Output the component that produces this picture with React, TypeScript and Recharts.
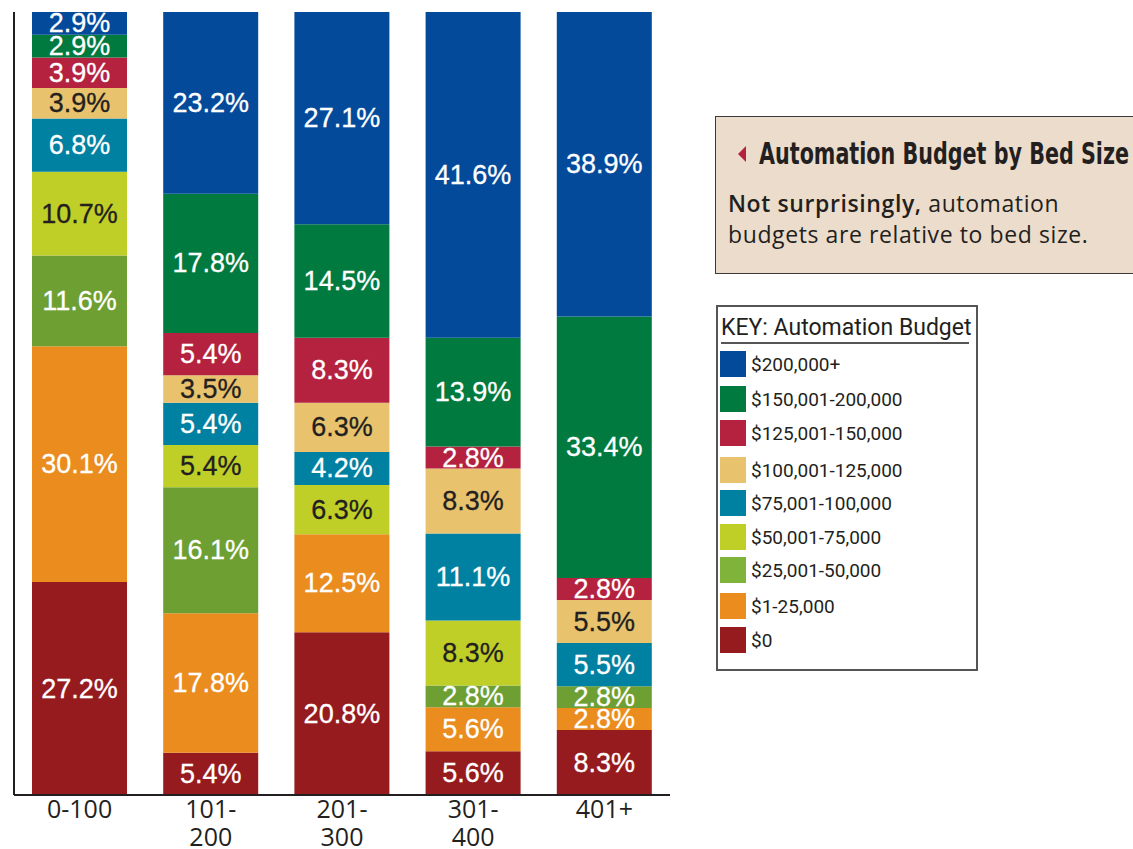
import { BarChart, Bar, XAxis, YAxis, LabelList } from 'recharts'

const categories = ['0-100', '101-200', '201-300', '301-400', '401+']
const tickLines = [['0-100'], ['101-', '200'], ['201-', '300'], ['301-', '400'], ['401+']]

const budgetNames = [
  '$0',
  '$1-25,000',
  '$25,001-50,000',
  '$50,001-75,000',
  '$75,001-100,000',
  '$100,001-125,000',
  '$125,001-150,000',
  '$150,001-200,000',
  '$200,000+',
]

// percent of respondents per bed-size group, bottom to top
const zero = [27.2, 5.4, 20.8, 5.6, 8.3]
const upTo25k = [30.1, 17.8, 12.5, 5.6, 2.8]
const from25k = [11.6, 16.1, 0, 2.8, 2.8]
const from50k = [10.7, 5.4, 6.3, 8.3, 0]
const from75k = [6.8, 5.4, 4.2, 11.1, 5.5]
const from100k = [3.9, 3.5, 6.3, 8.3, 5.5]
const from125k = [3.9, 5.4, 8.3, 2.8, 2.8]
const from150k = [2.9, 17.8, 14.5, 13.9, 33.4]
const over200k = [2.9, 23.2, 27.1, 41.6, 38.9]

const seriesValues = [zero, upTo25k, from25k, from50k, from75k, from100k, from125k, from150k, over200k]

const COLORS = ['#961b1f', '#ea8c1e', '#6d9f33', '#c0cf27', '#0081a1', '#e8c26c', '#b42240', '#007a3e', '#034a9b']
const KEY_COLORS = ['#961b1f', '#ea8c1e', '#80b33a', '#c0cf27', '#0081a1', '#e8c26c', '#b42240', '#007a3e', '#034a9b']
const DARK_TEXT = [false, false, false, true, false, true, false, false, false]

const data = categories.map((cat, i) => {
  const row: Record<string, string | number> = { cat }
  seriesValues.forEach((vals, s) => {
    row[`s${s}`] = vals[i]
  })
  return row
})

const KEY_TOPS = [351, 386, 420, 457, 490, 524, 557, 593, 627]

function XTick({ x, y, payload }: any) {
  const lines = tickLines[payload.index] || [payload.value]
  return (
    <text x={x} y={y} textAnchor="middle" fill="#231f20" fontSize={25} fontFamily="'Open Sans', sans-serif">
      {lines.map((l, i) => (
        <tspan key={i} x={x} dy={i === 0 ? 15 : 28}>
          {l}
        </tspan>
      ))}
    </text>
  )
}

function makeLabel(dark: boolean) {
  return (props: any) => {
    const { x, y, width, height, value } = props
    if (!value) return null
    return (
      <text
        x={x + width / 2}
        y={y + height / 2}
        textAnchor="middle"
        dominantBaseline="central"
        fill={dark ? '#231f20' : '#ffffff'}
        fontSize={27}
        fontFamily="'Liberation Sans Narrow', 'Liberation Sans', sans-serif"
        stroke={dark ? '#231f20' : '#ffffff'}
        strokeWidth={0.3}
      >
        {`${value}%`}
      </text>
    )
  }
}

export default function App() {
  return (
    <div
      style={{
        position: 'absolute',
        left: 0,
        top: 0,
        width: 1133,
        height: 849,
        overflow: 'hidden',
        background: '#fff',
      }}
    >
      <div style={{ position: 'absolute', left: 0, top: 0 }}>
        <BarChart width={680} height={849} data={data} margin={{ top: 12, right: 10, bottom: 0, left: 13 }}>
          <YAxis
            domain={[0, 100]}
            width={1}
            tick={false}
            tickLine={false}
            axisLine={{ stroke: '#231f20', strokeWidth: 2 }}
          />
          <XAxis
            dataKey="cat"
            height={54}
            tickLine={false}
            interval={0}
            tick={<XTick />}
            axisLine={{ stroke: '#231f20', strokeWidth: 2 }}
          />
          {budgetNames.map((name, s) => (
            <Bar
              key={name}
              dataKey={`s${s}`}
              name={name}
              stackId="a"
              fill={COLORS[s]}
              barSize={95}
              isAnimationActive={false}
            >
              <LabelList dataKey={`s${s}`} content={makeLabel(DARK_TEXT[s])} />
            </Bar>
          ))}
        </BarChart>
      </div>

      {/* note box */}
      <div
        style={{
          position: 'absolute',
          left: 715,
          top: 116,
          width: 440,
          height: 158,
          background: '#ecdccb',
          border: '1.5px solid #3a3a3a',
          boxSizing: 'border-box',
        }}
      >
        <svg width={440} height={60} style={{ position: 'absolute', left: 0, top: 0 }}>
          <polygon points="22,37 30,29 30,45" fill="#b42240" />
          <text
            x={43}
            y={47}
            fontSize={31}
            fontWeight="bold"
            fill="#231f20"
            fontFamily="'Liberation Sans Narrow', 'DejaVu Sans Condensed', sans-serif"
            textLength={370}
            lengthAdjust="spacingAndGlyphs"
          >
            Automation Budget by Bed Size
          </text>
        </svg>
        <div
          style={{
            position: 'absolute',
            left: 12,
            top: 71,
            fontFamily: "'Open Sans', sans-serif",
            fontSize: 23,
            letterSpacing: 0.6,
            lineHeight: '31px',
            color: '#231f20',
            whiteSpace: 'nowrap',
          }}
        >
          <div>
            <span style={{ fontWeight: 600 }}>Not surprisingly,</span> automation
          </div>
          <div>budgets are relative to bed size.</div>
        </div>
      </div>

      {/* key */}
      <div
        style={{
          position: 'absolute',
          left: 716,
          top: 305,
          width: 262,
          height: 366,
          border: '2px solid #555',
          boxSizing: 'border-box',
          background: '#fff',
        }}
      >
        <div
          style={{
            position: 'absolute',
            left: 3,
            top: 6,
            width: 248,
            fontFamily: 'Roboto, sans-serif',
            fontSize: 23,
            color: '#231f20',
            borderBottom: '2px solid #555',
            lineHeight: '29px',
            whiteSpace: 'nowrap',
          }}
        >
          KEY: Automation Budget
        </div>
        {budgetNames
          .map((name, s) => ({ name, s }))
          .reverse()
          .map(({ name, s }, i) => (
            <div key={name} style={{ position: 'absolute', left: 2, top: KEY_TOPS[i] - 307, height: 26, display: 'flex', alignItems: 'center' }}>
              <div style={{ width: 26, height: 26, background: KEY_COLORS[s] }} />
              <span
                style={{
                  marginLeft: 5,
                  fontFamily: 'Roboto, sans-serif',
                  fontSize: 19,
                  color: '#231f20',
                  whiteSpace: 'nowrap',
                }}
              >
                {name}
              </span>
            </div>
          ))}
      </div>
    </div>
  )
}
